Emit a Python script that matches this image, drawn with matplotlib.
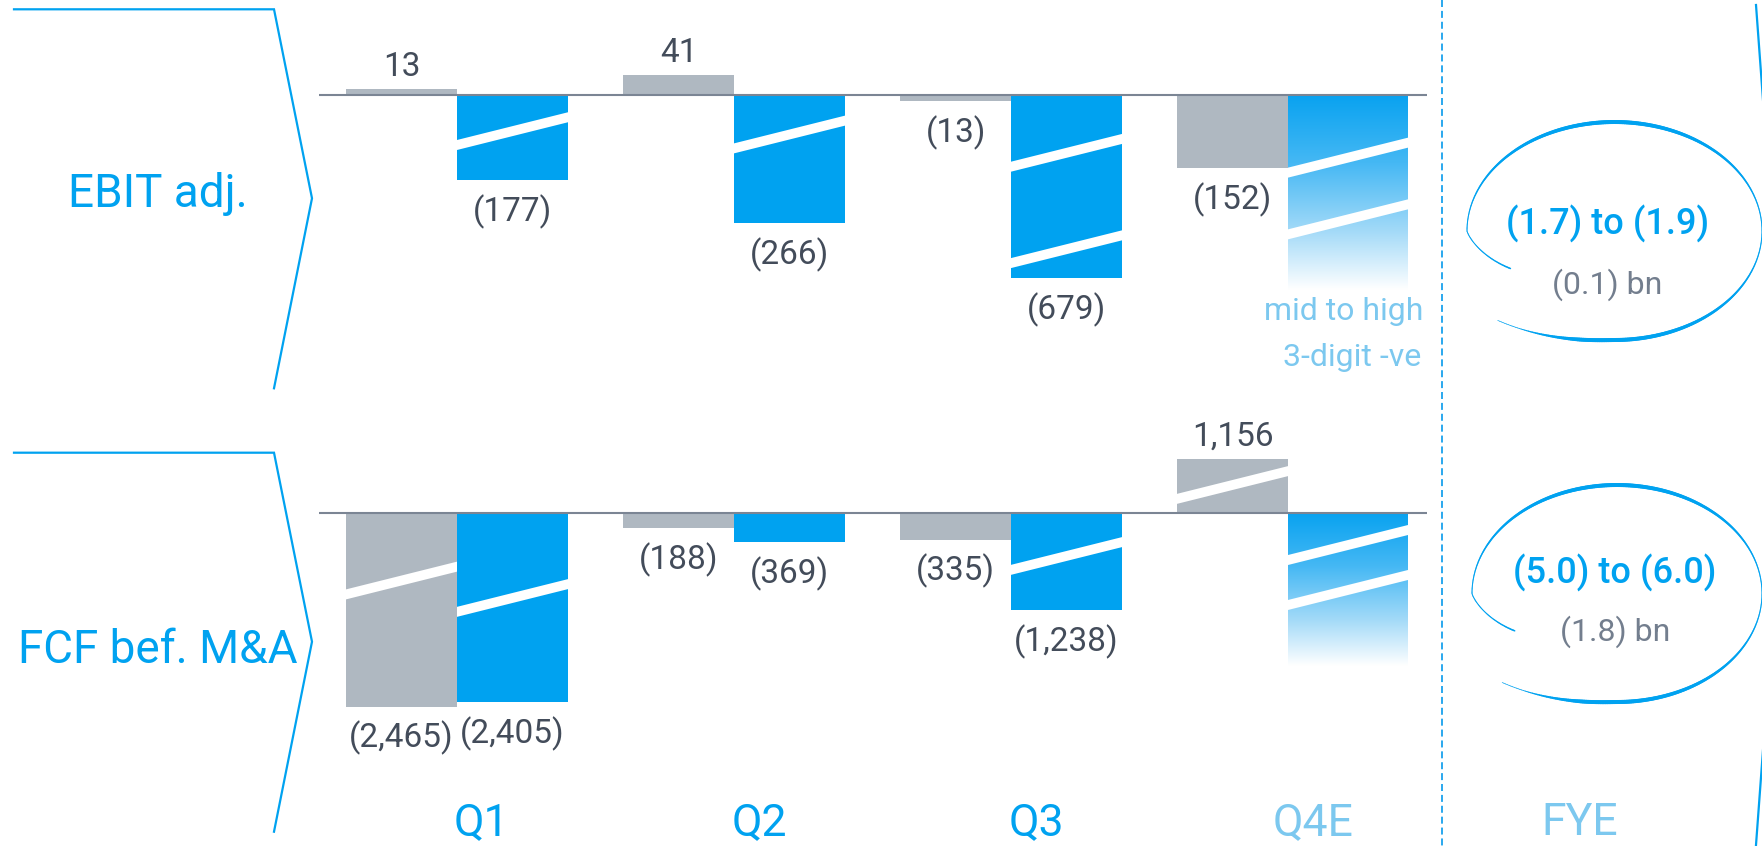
import numpy as np
import matplotlib.pyplot as plt
from matplotlib.patches import Polygon, Rectangle
from matplotlib.collections import LineCollection
from matplotlib.colors import LinearSegmentedColormap
from matplotlib.transforms import blended_transform_factory

plt.rcParams["font.family"] = ["Liberation Sans Narrow", "Roboto", "DejaVu Sans"]

# ---- data ----
quarters = ["Q1", "Q2", "Q3", "Q4E"]
ebit_prior = [13, 41, -13, -152]
ebit_curr = [-177, -266, -679]
fcf_prior = [-2465, -188, -335, 1156]
fcf_curr = [-2405, -369, -1238]

# lengths as drawn (bars with axis breaks are shortened)
ebit_prior_drawn = [13, 41, -13, -152]
ebit_curr_drawn = [-177, -266, -380]
fcf_prior_drawn = [-2465, -188, -335, 692]
fcf_curr_drawn = [-2405, -369, -1238]
ebit_q4e_drawn = -405
fcf_q4e_drawn = -1950
q4e_note = ["mid to high", "3-digit -ve"]

fye_range = ["(1.7) to (1.9)", "(5.0) to (6.0)"]
fye_prior = ["(0.1) bn", "(1.8) bn"]
row_titles = ["EBIT adj.", "FCF bef. M&A"]

# break marks (value at bar centre), last entry of curr lists = Q4E bar
ebit_prior_breaks = [[], [], [], []]
ebit_curr_breaks = [[-75], [-82], [-120, -320], [-130, -258]]
fcf_prior_breaks = [[-856], [], [], [361]]
fcf_curr_breaks = [[-1079], [], [-544], [-404, -977]]

# ---- style ----
BLUE = "#00A2F0"
GRAY = "#AFB8C1"
TXT = "#434C5A"
LIGHT = "#7CC8EF"
SUB = "#737E8E"
BASE = "#7B8594"

W, H = 1762, 846
UNIT = 277.0            # px per category
X0 = 318.5
BW = 0.4
BW_Q4E = 0.433

fig = plt.figure(figsize=(W / 100, H / 100), dpi=100)
deco = fig.add_axes([0, 0, 1, 1])
deco.set_xlim(0, W)
deco.set_ylim(H, 0)
deco.axis("off")


def panel(top_px, bottom_px, base_px, ppu):
    ax = fig.add_axes([X0 / W, 1 - bottom_px / H, 4 * UNIT / W, (bottom_px - top_px) / H])
    ax.patch.set_alpha(0)
    ax.axis("off")
    ax.lim = (-(bottom_px - base_px) / ppu, (base_px - top_px) / ppu)
    ax.ppu = ppu
    return ax


def add_break(ax, bar, v):
    x0 = bar.get_x()
    w = bar.get_width()
    xc = x0 + w / 2
    slope = 0.25 * UNIT / ax.ppu
    ht = 5.0 / ax.ppu
    xl, xr = x0 - 0.05, x0 + w + 0.05
    yl = v + (xl - xc) * slope
    yr = v + (xr - xc) * slope
    p = Polygon([(xl, yl - ht), (xr, yr - ht), (xr, yr + ht), (xl, yl + ht)],
                closed=True, facecolor="white", edgecolor="none", zorder=3)
    ax.add_patch(p)
    p.set_clip_path(bar)


def label(ax, x, v, shown):
    txt = f"({abs(v):,})" if v < 0 else f"{v:,}"
    off = 9.4 if shown > 0 else -29.5
    ax.annotate(txt, (x, shown), xytext=(0, off), textcoords="offset points",
                ha="center", va="baseline", fontsize=24, color=TXT)


grad_cmap = LinearSegmentedColormap.from_list(
    "fade", [(0, "#08A2F0"), (0.35, "#45B8F4"), (0.7, "#A3DAF8"), (1, "#FFFFFF")])


def draw_panel(ax, prior, prior_drawn, curr, curr_drawn, q4e_drawn,
               prior_breaks, curr_breaks):
    x = np.arange(len(quarters))
    gbars = ax.bar(x - BW, prior_drawn, width=BW, align="edge", color=GRAY, zorder=2)
    bbars = ax.bar(x[:3], curr_drawn, width=BW, align="edge", color=BLUE, zorder=2)
    rect = Rectangle((3, q4e_drawn), BW_Q4E, -q4e_drawn, facecolor="none",
                     edgecolor="none")
    ax.add_patch(rect)
    grad = np.linspace(0, 1, 256).reshape(-1, 1)
    im = ax.imshow(grad, extent=(3, 3 + BW_Q4E, q4e_drawn, 0), aspect="auto",
                   cmap=grad_cmap, origin="upper", zorder=2)
    im.set_clip_path(rect)
    for bar, brs in zip(gbars, prior_breaks):
        for v in brs:
            add_break(ax, bar, v)
    for bar, brs in zip(list(bbars) + [rect], curr_breaks):
        for v in brs:
            add_break(ax, bar, v)
    for i, (v, s) in enumerate(zip(prior, prior_drawn)):
        label(ax, i - BW / 2, v, s)
    for i, (v, s) in enumerate(zip(curr, curr_drawn)):
        label(ax, i + BW / 2, v, s)
    ax.axhline(0, color=BASE, lw=1.5, zorder=4)
    ax.set_xlim(-0.5, 3.5)
    ax.set_ylim(*ax.lim)


ax1 = panel(0, 420, 95.0, 0.482)
draw_panel(ax1, ebit_prior, ebit_prior_drawn, ebit_curr, ebit_curr_drawn,
           ebit_q4e_drawn, ebit_prior_breaks, ebit_curr_breaks)
ax2 = panel(420, 846, 513.3, 0.0785)
draw_panel(ax2, fcf_prior, fcf_prior_drawn, fcf_curr, fcf_curr_drawn,
           fcf_q4e_drawn, fcf_prior_breaks, fcf_curr_breaks)

# Q4E note
deco.text(1423, 320, q4e_note[0], ha="right", va="baseline", fontsize=23, color=LIGHT)
deco.text(1421, 365.7, q4e_note[1], ha="right", va="baseline", fontsize=23, color=LIGHT)

# category labels
tr = blended_transform_factory(ax2.transData, deco.transData)
for i, q in enumerate(quarters):
    deco.text(i + 0.09, 835, q, transform=tr, ha="center", va="baseline",
              fontsize=32, color=BLUE if i < 3 else LIGHT)
deco.text(1580, 835, "FYE", ha="center", va="baseline", fontsize=32, color=LIGHT)

# left chevrons with row titles
for top, title, base in [(9.3, row_titles[0], 206.7), (452.7, row_titles[1], 663.3)]:
    deco.plot([14, 274, 312, 274], [top, top, top + 189, top + 379], color=BLUE,
              lw=1.6, solid_joinstyle="miter")
    deco.text(158, base, title, ha="center", va="baseline", fontsize=33, color=BLUE)

# right chevron edge
deco.plot([1756, 1787, 1756], [5, 425, 845], color=BLUE, lw=1.6)

# dashed divider
deco.plot([1442, 1442], [0, H], color="#2AA8EE", lw=1.4, dashes=(3.6, 2.0))


def hand_loop(cx, cy, a, b):
    deg = np.linspace(134, -206, 500)
    t = np.radians(deg)
    r = np.ones_like(t)
    s = deg > 90
    r[s] = 1 + 0.14 * ((deg[s] - 90) / 44) ** 1.5
    e = deg < -180
    r[e] = 1 - 0.215 * ((-180 - deg[e]) / 26) ** 1.2
    x = cx + a * r * np.cos(t)
    y = cy + b * r * np.sin(t)
    w = 1.0 + 3.0 * np.sin(t) ** 2
    w *= np.clip((134 - deg) / 30, 0.25, 1)
    pts = np.column_stack([x, y]).reshape(-1, 1, 2)
    segs = np.concatenate([pts[:-1], pts[1:]], axis=1)
    lc = LineCollection(segs, linewidths=w[:-1] * 0.72, colors=BLUE, capstyle="round")
    deco.add_collection(lc)


hand_loop(1614.5, 231, 147.5, 109)
hand_loop(1617, 593.5, 145, 108.5)

deco.text(1607.5, 235, fye_range[0], ha="center", va="baseline", fontsize=26,
          fontweight="medium", color=BLUE)
deco.text(1607.5, 293.3, fye_prior[0], ha="center", va="baseline", fontsize=23, color=SUB)
deco.text(1615, 583.3, fye_range[1], ha="center", va="baseline", fontsize=26,
          fontweight="medium", color=BLUE)
deco.text(1615, 640.7, fye_prior[1], ha="center", va="baseline", fontsize=23, color=SUB)

fig.savefig("out.png", dpi=100)
